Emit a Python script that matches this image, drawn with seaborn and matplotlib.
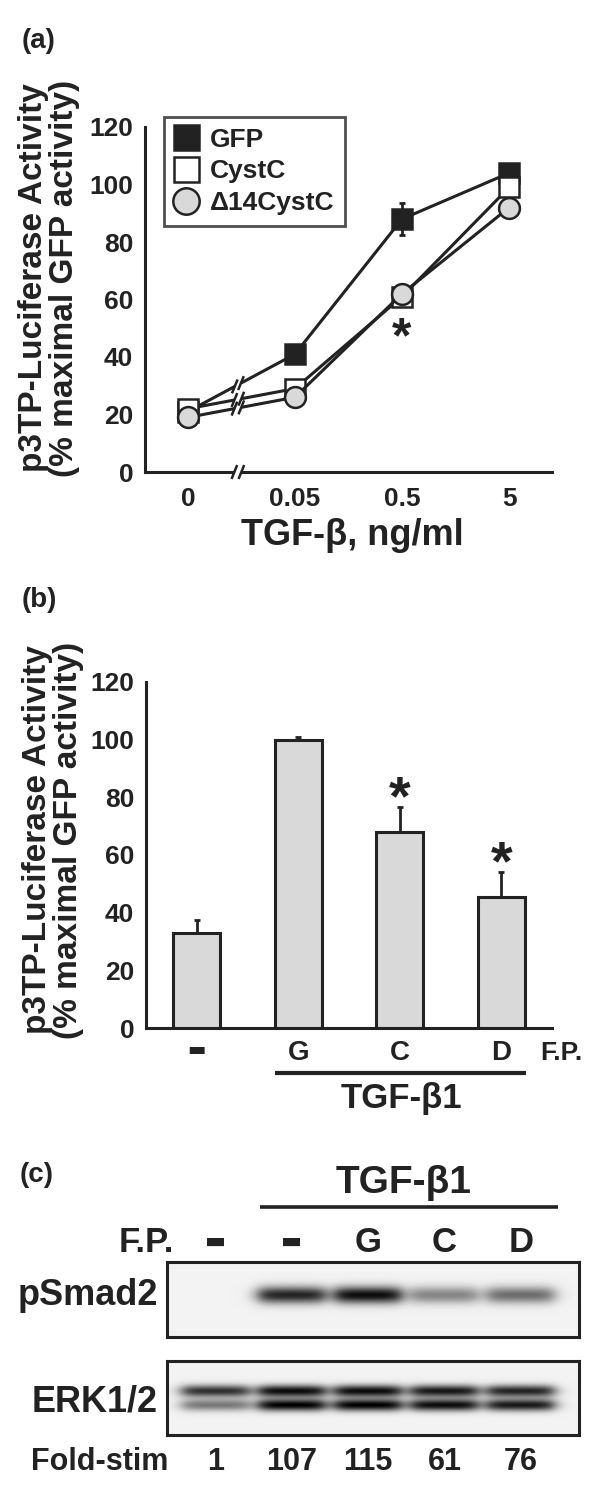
import numpy as np
import pandas as pd
import matplotlib
matplotlib.use("Agg")
import matplotlib.pyplot as plt
import seaborn as sns
from matplotlib.lines import Line2D
from matplotlib.transforms import IdentityTransform, blended_transform_factory

# ---- panel (a): p3TP-Luciferase vs TGF-beta dose ----
conc_labels = ['0', '0.05', '0.5', '5']
gfp_vals = [21, 41, 88, 104]
gfp_err = [0, 1, 5.5, 1.5]
cystc_vals = [22, 29, 61, 99]
d14_vals = [19, 26, 62, 92]

# ---- panel (b): luciferase with fusion proteins ----
fp_labels = ['-', 'G', 'C', 'D']
bar_vals = [33, 100, 68, 45.5]
bar_err = [4.5, 1, 8.5, 8.5]
bar_sig = [False, False, True, True]

# ---- panel (c): western blot ----
lane_fp = ['-', '-', 'G', 'C', 'D']
fold_stim = ['1', '107', '115', '61', '76']
psmad_dark = [0.0, 0.85, 0.95, 0.45, 0.55]
erk_upper = [0.8, 0.95, 0.95, 0.9, 0.85]
erk_lower = [0.5, 1.0, 1.0, 0.95, 0.9]

INK = '#222222'
GREY = '#d9d9d9'

sns.set_style('white')
plt.rcParams['font.family'] = ['Liberation Sans', 'DejaVu Sans']
plt.rcParams['font.weight'] = 'bold'
plt.rcParams['text.color'] = INK
plt.rcParams['axes.labelcolor'] = INK
plt.rcParams['xtick.color'] = INK
plt.rcParams['ytick.color'] = INK

W, H = 600, 1496
fig = plt.figure(figsize=(W / 100, H / 100), dpi=100)
fig.patch.set_facecolor('white')


def fx(px):
    return px / W


def fy(py):
    return 1 - py / H


def style_axes(ax):
    for s in ['top', 'right']:
        ax.spines[s].set_visible(False)
    for s in ['left', 'bottom']:
        ax.spines[s].set_color(INK)
        ax.spines[s].set_linewidth(2.2)
    ax.tick_params(axis='y', length=2.5, width=2, pad=6, labelsize=19)


ylab = 'p3TP-Luciferase Activity\n(% maximal GFP activity)'

# ================= panel (a) =================
ax_a = fig.add_axes([fx(145), fy(472), (552 - 145) / W, (472 - 127) / H])
style_axes(ax_a)
pos = np.arange(len(conc_labels))
df_a = pd.DataFrame({
    'pos': np.tile(pos, 3),
    'value': gfp_vals + cystc_vals + d14_vals,
    'construct': ['GFP'] * 4 + ['CystC'] * 4 + ['Δ14CystC'] * 4,
})
series = [('GFP', 's', INK, 14), ('CystC', 's', 'white', 14), ('Δ14CystC', 'o', GREY, 15)]

ax_a.errorbar(pos, gfp_vals, yerr=gfp_err, fmt='none', ecolor=INK,
              elinewidth=2, capsize=2.5, capthick=2, zorder=2)
for z, (name, mk, fc, ms) in enumerate(series):
    sub = df_a[df_a['construct'] == name]
    sns.lineplot(data=sub, x='pos', y='value', ax=ax_a, sort=False,
                 color=INK, linewidth=2.2, marker=mk, markersize=ms,
                 markerfacecolor=fc, markeredgecolor=INK, markeredgewidth=1.8,
                 zorder=3 + z, legend=False)

ax_a.set_xlim(-0.4, 3.4)
ax_a.set_ylim(0, 120)
ax_a.set_yticks(range(0, 121, 20))
ax_a.set_xticks(pos)
ax_a.set_xticklabels(conc_labels)
ax_a.tick_params(axis='x', length=2.5, width=2, pad=8, labelsize=19)
ax_a.set_xlabel('')
ax_a.set_ylabel('')

ax_a.text(2, 46, '*', ha='center', va='center', fontsize=36, color=INK)

handles = [Line2D([], [], ls='none', marker=mk, markersize=ms + 4, markerfacecolor=fc,
                  markeredgecolor=INK, markeredgewidth=1.8) for _, mk, fc, ms in series]
leg = ax_a.legend(handles, [s[0] for s in series], loc='upper left',
                  bbox_to_anchor=(fx(164), fy(117)), bbox_transform=fig.transFigure,
                  frameon=True, fancybox=False, fontsize=19, handlelength=0.9,
                  handletextpad=0.45, labelspacing=0.3, borderpad=0.4, borderaxespad=0)
leg.get_frame().set_edgecolor(INK)
leg.get_frame().set_linewidth(2)
leg.set_zorder(10)

# break marks between 0 and 0.05
fig.canvas.draw()
xb = 0.467


def break_mark(ax, x, y, ang):
    X, Y = ax.transData.transform((x, y))
    ux, uy = np.cos(ang), np.sin(ang)
    g = 3.5
    fig.add_artist(Line2D([X - g * ux, X + g * ux], [Y - g * uy, Y + g * uy],
                          transform=IdentityTransform(), color='white', lw=5,
                          solid_capstyle='butt', zorder=8))
    sx, sy = np.cos(np.deg2rad(68)), np.sin(np.deg2rad(68))
    L = 7.5
    for s in (-g, g):
        cx, cy = X + s * ux, Y + s * uy
        fig.add_artist(Line2D([cx - L * sx, cx + L * sx], [cy - L * sy, cy + L * sy],
                              transform=IdentityTransform(), color=INK, lw=1.8,
                              solid_capstyle='butt', zorder=9))


for vals in (gfp_vals, cystc_vals, d14_vals):
    p0 = ax_a.transData.transform((0, vals[0]))
    p1 = ax_a.transData.transform((1, vals[1]))
    ang = np.arctan2(p1[1] - p0[1], p1[0] - p0[0])
    break_mark(ax_a, xb, vals[0] + xb * (vals[1] - vals[0]), ang)
break_mark(ax_a, xb, 0, 0.0)

fig.text(fx(49), fy(278), ylab, rotation=90, ha='center', va='center',
         multialignment='center', fontsize=24, linespacing=1.02)
fig.text(fx(352), fy(545), 'TGF-β, ng/ml', ha='center', va='baseline', fontsize=26)
fig.text(fx(22), fy(48), '(a)', ha='left', va='baseline', fontsize=20)

# ================= panel (b) =================
ax_b = fig.add_axes([fx(146), fy(1028), (552 - 146) / W, (1028 - 682) / H])
style_axes(ax_b)
sns.barplot(x=fp_labels, y=bar_vals, ax=ax_b, color=GREY, saturation=1,
            edgecolor=INK, linewidth=2.2, width=0.46, errorbar=None)
bpos = np.arange(len(fp_labels))
ax_b.errorbar(bpos, bar_vals, yerr=[np.zeros(len(bar_err)), bar_err], fmt='none',
              ecolor=INK, elinewidth=2, capsize=2.5, capthick=2, zorder=1)
for p, v, e, sig in zip(bpos, bar_vals, bar_err, bar_sig):
    if sig:
        ax_b.text(p, v + e + 2.5, '*', ha='center', va='center', fontsize=40, color=INK)
ax_b.set_xlim(-0.5, 3.5)
ax_b.set_ylim(0, 120)
ax_b.set_yticks(range(0, 121, 20))
ax_b.set_xticks(bpos)
ax_b.set_xticklabels(['▬', 'G', 'C', 'D'])
ax_b.set_xticks([0.5, 1.5, 2.5], minor=True)
ax_b.tick_params(axis='x', which='major', length=0, pad=9, labelsize=20)
ax_b.tick_params(axis='x', which='minor', length=2.5, width=2)
tl = ax_b.get_xticklabels()[0]
tl.set_fontfamily('DejaVu Sans')
tl.set_fontsize(14)
ax_b.set_xlabel('')
ax_b.set_ylabel('')

fig.text(fx(540), fy(1060), 'F.P.', ha='left', va='baseline', fontsize=19)
fig.add_artist(Line2D([fx(275), fx(526)], [fy(1073), fy(1073)], color=INK, lw=3,
                      transform=fig.transFigure, solid_capstyle='butt'))
fig.text(fx(401), fy(1108), 'TGF-β1', ha='center', va='baseline', fontsize=25)
fig.text(fx(53), fy(840), ylab, rotation=90, ha='center', va='center',
         multialignment='center', fontsize=24, linespacing=1.02)
fig.text(fx(22), fy(607), '(b)', ha='left', va='baseline', fontsize=20)

# ================= panel (c) =================
x0, x1 = -0.63, 4.76
ax_c1 = fig.add_axes([fx(167), fy(1337), (579 - 167) / W, (1337 - 1262) / H])
ax_c2 = fig.add_axes([fx(167), fy(1435), (579 - 167) / W, (1435 - 1361) / H])

ncol = 412
xs = np.linspace(x0, x1, ncol)


def lane_shape(c, half_w):
    return 1 / (1 + np.exp((np.abs(xs - c) - half_w) / 0.06))


def blot_image(nrow, bands):
    ys = np.arange(nrow) + 0.5
    dark = np.zeros((nrow, ncol))
    for yc, sy, levels in bands:
        prof = np.exp(-((ys - yc) / sy) ** 2)
        for i, a in enumerate(levels):
            dark += a * np.outer(prof, lane_shape(i, 0.44))
    return 0.95 * (1 - np.clip(dark, 0, 1))


img1 = blot_image(75, [(33, 8.5, psmad_dark)])
img2 = blot_image(74, [(30, 6, erk_upper), (44, 6, erk_lower)])
for ax, img in ((ax_c1, img1), (ax_c2, img2)):
    ax.imshow(img, cmap='gray', vmin=0, vmax=1, aspect='auto',
              extent=(x0, x1, img.shape[0], 0), interpolation='bilinear')
    ax.set_xlim(x0, x1)
    ax.set_xticks([])
    ax.set_yticks([])
    for s in ax.spines.values():
        s.set_visible(True)
        s.set_color(INK)
        s.set_linewidth(2.2)

tr = blended_transform_factory(ax_c1.transData, fig.transFigure)
for i, lab in enumerate(lane_fp):
    if lab == '-':
        fig.text(0, fy(1242), '▬', transform=tr, ha='center', va='center',
                 fontsize=16, family='DejaVu Sans').set_x(i)
    else:
        fig.text(0, fy(1252), lab, transform=tr, ha='center', va='baseline',
                 fontsize=25).set_x(i)
for i, num in enumerate(fold_stim):
    fig.text(0, fy(1470), num, transform=tr, ha='center', va='baseline',
             fontsize=22).set_x(i)

fig.text(fx(146), fy(1252), 'F.P.', ha='center', va='baseline', fontsize=25)
fig.text(fx(158), fy(1305), 'pSmad2', ha='right', va='baseline', fontsize=26)
fig.text(fx(158), fy(1412), 'ERK1/2', ha='right', va='baseline', fontsize=26)
fig.text(fx(31), fy(1470), 'Fold-stim', ha='left', va='baseline', fontsize=22)
fig.add_artist(Line2D([fx(260), fx(558)], [fy(1207), fy(1207)], color=INK, lw=2.6,
                      transform=fig.transFigure, solid_capstyle='butt'))
fig.text(fx(404), fy(1193), 'TGF-β1', ha='center', va='baseline', fontsize=28)
fig.text(fx(20), fy(1182), '(c)', ha='left', va='baseline', fontsize=20)

fig.savefig('out.png', dpi=100, facecolor='white')
